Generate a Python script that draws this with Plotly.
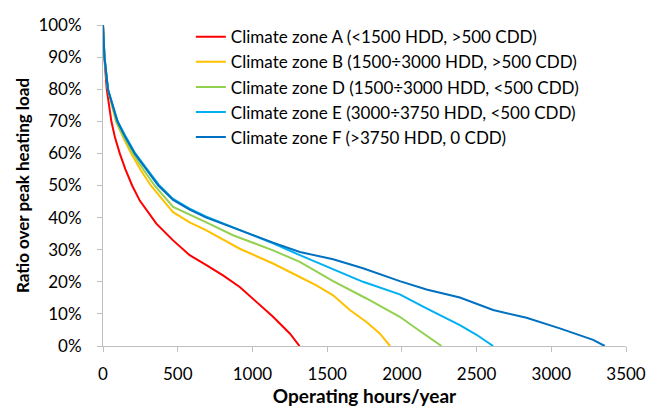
import plotly.graph_objects as go

# Data (hours/year, ratio over peak heating load)
names = [
    "Climate zone A (<1500 HDD, >500 CDD)",
    "Climate zone B (1500÷3000 HDD, >500 CDD)",
    "Climate zone D (1500÷3000 HDD, <500 CDD)",
    "Climate zone E (3000÷3750 HDD, <500 CDD)",
    "Climate zone F (>3750 HDD, 0 CDD)",
]
colors = ["#FF0000", "#FFC000", "#92D050", "#00B0F0", "#0070C0"]

a_x = [0, 9, 25, 56, 80, 112, 150, 195, 246, 357, 469, 580, 692, 803, 915, 1027, 1138, 1250, 1315]
a_y = [1.0, 0.90, 0.80, 0.70, 0.65, 0.60, 0.55, 0.50, 0.453, 0.381, 0.329, 0.283, 0.252, 0.220, 0.184, 0.138, 0.091, 0.039, 0.0]

b_x = [0, 10, 33, 87, 135, 188, 250, 320, 400, 469, 580, 692, 915, 1138, 1317, 1428, 1540, 1652, 1763, 1852, 1921]
b_y = [1.0, 0.90, 0.80, 0.70, 0.65, 0.60, 0.55, 0.50, 0.455, 0.417, 0.385, 0.360, 0.303, 0.257, 0.215, 0.189, 0.158, 0.112, 0.075, 0.039, 0.0]

d_x = [0, 10, 33, 89, 140, 201, 270, 345, 469, 580, 692, 870, 1138, 1317, 1540, 1763, 1986, 2080, 2165, 2265]
d_y = [1.0, 0.90, 0.80, 0.70, 0.65, 0.60, 0.55, 0.50, 0.433, 0.41, 0.385, 0.345, 0.298, 0.262, 0.202, 0.148, 0.091, 0.06, 0.033, 0.0]

e_x = [0, 10, 33, 98, 155, 216, 296, 378, 469, 580, 692, 870, 1000, 1138, 1317, 1540, 1740, 1986, 2165, 2388, 2500, 2611]
e_y = [1.0, 0.90, 0.80, 0.70, 0.65, 0.60, 0.55, 0.50, 0.458, 0.428, 0.403, 0.370, 0.347, 0.320, 0.283, 0.238, 0.200, 0.161, 0.117, 0.065, 0.035, 0.0]

f_x = [0, 10, 33, 96, 150, 212, 290, 370, 469, 580, 692, 870, 1000, 1138, 1317, 1540, 1740, 1986, 2165, 2388, 2611, 2834, 3057, 3280, 3358]
f_y = [1.0, 0.90, 0.80, 0.70, 0.65, 0.60, 0.55, 0.50, 0.455, 0.425, 0.40, 0.368, 0.345, 0.322, 0.293, 0.27, 0.242, 0.202, 0.176, 0.151, 0.112, 0.088, 0.055, 0.019, 0.0]

xs = [a_x, b_x, d_x, e_x, f_x]
ys = [a_y, b_y, d_y, e_y, f_y]

x_ticks = [0, 500, 1000, 1500, 2000, 2500, 3000, 3500]
y_ticks = [i / 10 for i in range(11)]

FONT = "Lato"

fig = go.Figure()
for n, c, x, y in zip(names, colors, xs, ys):
    fig.add_trace(go.Scatter(x=x, y=y, mode="lines", name=n,
                             line=dict(color=c, width=2)))

axis_common = dict(
    showline=True, linecolor="#BFBFBF", linewidth=1,
    ticks="outside", ticklen=5, tickcolor="#BFBFBF", tickwidth=1,
    showgrid=False, zeroline=False, automargin=False,
    tickfont=dict(family=FONT, size=17, color="black"),
)

# The page body has an 8px margin, so the figure is sized to fit the window.
fig.update_layout(
    width=654, height=403,
    margin=dict(l=95, r=35.5, t=16, b=65),
    paper_bgcolor="white", plot_bgcolor="white",
    font=dict(family=FONT, color="black"),
    xaxis=dict(range=[0, 3500], tickvals=x_ticks, ticklabelstandoff=8,
               title=dict(text="<b>Operating hours/year</b>",
                          font=dict(family=FONT, size=19), standoff=0),
               **axis_common),
    yaxis=dict(range=[0, 1], tickvals=y_ticks, tickformat=".0%", ticklabelstandoff=12,
               title=dict(text="<b>Ratio over peak heating load</b>",
                          font=dict(family=FONT, size=17), standoff=4),
               **axis_common),
    legend=dict(x=0.168, y=1.015, xanchor="left", yanchor="top",
                font=dict(family=FONT, size=17, color="black"),
                bgcolor="rgba(0,0,0,0)", itemwidth=30, tracegroupgap=0),
    showlegend=True,
)

fig.write_html("out.html")
